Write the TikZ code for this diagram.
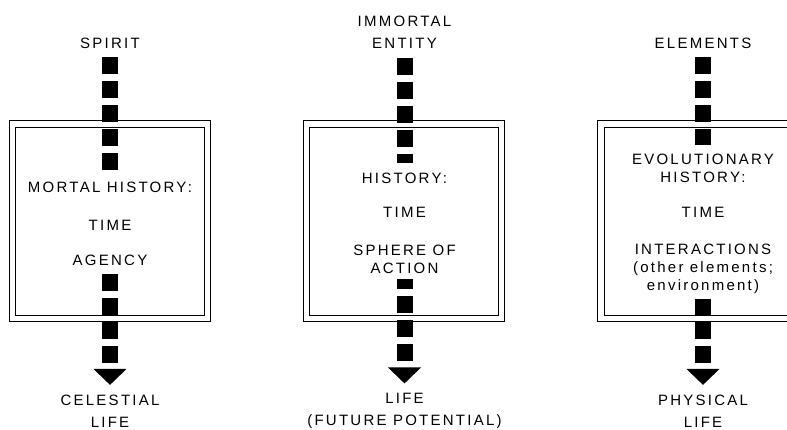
\documentclass[tikz,border=0pt]{standalone}
\usepackage{fontspec}
\usetikzlibrary{arrows.meta}
\newfontfamily\diagfont[LetterSpace=15]{Liberation Sans}

\begin{document}
\begin{tikzpicture}[
        x=1pt, y=-1pt,
        frame/.style={rectangle, draw, double, double distance=5.4pt, line width=1pt, minimum width=195pt, minimum height=194.5pt},
        tag/.style={font=\diagfont\fontsize{15}{22}\selectfont, align=center, inner sep=0pt},
        entry/.style={font=\diagfont\fontsize{15}{18}\selectfont, align=center, inner sep=0pt},
        bar/.style={line width=16pt, dash pattern=on 17pt off 7pt},
        feed/.style={bar, shorten <=8.6pt, shorten >=9pt},
        flow/.style={bar, dash phase=17pt, {Triangle[width=32pt,length=16pt]}-, shorten <=9.6pt, shorten >=5.6pt}
    ]
    \useasboundingbox (0,0) rectangle (787,430);
    \clip (0,0) rectangle (787,430);

    \node[frame] (boxA) at (110,221.25) {};
    \node[frame] (boxB) at (404,221.25) {};
    \node[frame] (boxC) at (698.5,221.25) {};

    \node[tag] (spirit) at (110,43) {SPIRIT};
    \node[entry] (mortal) at (110,187) {MORTAL HISTORY:};
    \node[entry] (timeA) at (110,225) {TIME};
    \node[entry] (agency) at (110,260) {AGENCY};
    \node[tag] (celestial) at (110,411) {CELESTIAL\\LIFE};

    \node[tag] (immortal) at (404.5,32.5) {IMMORTAL\\ENTITY};
    \node[entry] (history) at (404.5,178) {HISTORY:};
    \node[entry] (timeB) at (404.5,212) {TIME};
    \node[entry] (sphere) at (404.5,259) {SPHERE OF\\ACTION};
    \node[tag] (future) at (404.5,411) {LIFE\\(FUTURE POTENTIAL)};

    \node[tag] (elements) at (703,43) {ELEMENTS};
    \node[entry] (evolution) at (703,168.5) {EVOLUTIONARY\\HISTORY:};
    \node[entry] (timeC) at (703,212) {TIME};
    \node[entry] (interact) at (703,268.5) {INTERACTIONS\\(other elements;\\environment)};
    \node[tag] (physical) at (703,411) {PHYSICAL\\LIFE};

    \draw[feed] (spirit) -- (mortal);
    \draw[feed] (immortal) -- (history);
    \draw[feed] (elements) -- (evolution);

    % arrows drawn from the tip up
    \draw[flow] (celestial) -- (agency);
    \draw[flow] (future) -- (sphere);
    \draw[flow] (physical) -- (interact);

\end{tikzpicture}
\end{document}
